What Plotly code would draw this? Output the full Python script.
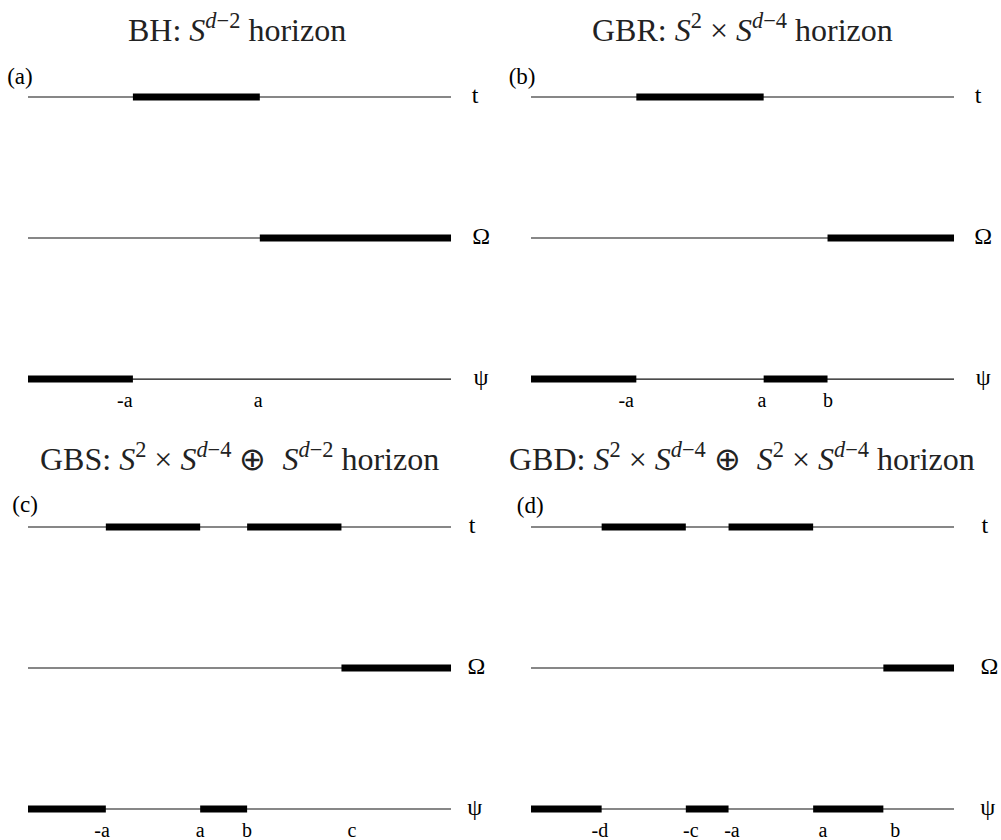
import plotly.graph_objects as go

# ---------------- data ----------------
row_names = ["t", "Ω", "ψ"]
row_levels = [2, 1, 0]
panel_tags = ["(a)", "(b)", "(c)", "(d)"]
panel_titles = [
    "BH: <i>S</i><sup><i>d</i>−2</sup> horizon",
    "GBR: <i>S</i><sup>2</sup> × <i>S</i><sup><i>d</i>−4</sup> horizon",
    "GBS: <i>S</i><sup>2</sup> × <i>S</i><sup><i>d</i>−4</sup> ⊕  <i>S</i><sup><i>d</i>−2</sup> horizon",
    "GBD: <i>S</i><sup>2</sup> × <i>S</i><sup><i>d</i>−4</sup> ⊕  <i>S</i><sup>2</sup> × <i>S</i><sup><i>d</i>−4</sup> horizon",
]
axis_span = [0, 100]

# thick (horizon) segments per panel and row: t, Ω, ψ
bh_t = [[24.8, 54.8]]
bh_omega = [[54.8, 100]]
bh_psi = [[0, 24.8]]

gbr_t = [[24.9, 55.0]]
gbr_omega = [[70.1, 100]]
gbr_psi = [[0, 24.9], [55.0, 70.1]]

gbs_t = [[18.4, 40.7], [51.8, 74.1]]
gbs_omega = [[74.1, 100]]
gbs_psi = [[0, 18.4], [40.7, 51.8]]

gbd_t = [[16.7, 36.6], [46.7, 66.7]]
gbd_omega = [[83.3, 100]]
gbd_psi = [[0, 16.7], [36.6, 46.7], [66.7, 83.3]]

# rod labels under the ψ line
bh_ticks = [22.9, 54.4]
bh_ticktext = ["-a", "a"]
gbr_ticks = [22.5, 54.6, 70.2]
gbr_ticktext = ["-a", "a", "b"]
gbs_ticks = [17.5, 40.7, 51.8, 76.6]
gbs_ticktext = ["-a", "a", "b", "c"]
gbd_ticks = [16.3, 37.8, 47.5, 69.0, 86.1]
gbd_ticktext = ["-d", "-c", "-a", "a", "b"]

# ---------------- assembly ----------------
panel_segments = [
    [bh_t, bh_omega, bh_psi],
    [gbr_t, gbr_omega, gbr_psi],
    [gbs_t, gbs_omega, gbs_psi],
    [gbd_t, gbd_omega, gbd_psi],
]
panel_ticks = [bh_ticks, gbr_ticks, gbs_ticks, gbd_ticks]
panel_ticktext = [bh_ticktext, gbr_ticktext, gbs_ticktext, gbd_ticktext]
row_label_x = [
    [105.7, 107.1, 107.1],
    [105.7, 106.9, 106.9],
    [105.0, 106.0, 105.6],
    [107.3, 108.4, 108.0],
]
tag_pos = [(-1.9, 2.135), (-2.1, 2.135), (-0.7, 2.15), (-0.2, 2.14)]
title_pos = [(0.2368, 0.9667), (0.7413, 0.9667), (0.2388, 0.4560), (0.7413, 0.4560)]

SERIF = "Liberation Serif"
fig = go.Figure()

for p in range(4):
    xa = "x" if p == 0 else f"x{p+1}"
    ya = "y" if p == 0 else f"y{p+1}"
    for r in range(3):
        lvl = row_levels[r]
        # thin base line
        fig.add_trace(go.Scatter(
            x=axis_span, y=[lvl, lvl], mode="lines",
            line=dict(color="#111111", width=1.2),
            xaxis=xa, yaxis=ya, showlegend=False, hoverinfo="skip"))
        # thick segments
        for seg in panel_segments[p][r]:
            fig.add_trace(go.Scatter(
                x=seg, y=[lvl, lvl], mode="lines",
                line=dict(color="black", width=7),
                xaxis=xa, yaxis=ya, showlegend=False, hoverinfo="skip"))
    # row names
    fig.add_trace(go.Scatter(
        x=row_label_x[p], y=row_levels, mode="text", text=row_names,
        textposition="middle center",
        textfont=dict(family=SERIF, size=24, color="black"),
        cliponaxis=False, xaxis=xa, yaxis=ya, showlegend=False, hoverinfo="skip"))
    # rod labels
    fig.add_trace(go.Scatter(
        x=panel_ticks[p], y=[-0.165] * len(panel_ticks[p]), mode="text",
        text=panel_ticktext[p], textposition="middle center",
        textfont=dict(family=SERIF, size=20, color="black"),
        cliponaxis=False, xaxis=xa, yaxis=ya, showlegend=False, hoverinfo="skip"))
    # panel tag
    fig.add_trace(go.Scatter(
        x=[tag_pos[p][0]], y=[tag_pos[p][1]], mode="text", text=[panel_tags[p]],
        textposition="middle center",
        textfont=dict(family=SERIF, size=23, color="black"),
        cliponaxis=False, xaxis=xa, yaxis=ya, showlegend=False, hoverinfo="skip"))

annotations = []
for p in range(4):
    annotations.append(dict(
        x=title_pos[p][0], y=title_pos[p][1], xref="paper", yref="paper",
        text=panel_titles[p], showarrow=False,
        xanchor="center", yanchor="middle",
        font=dict(family=SERIF, size=32, color="#222222")))

col_domains = [[0, 0.4995], [0.4995, 1.0]]
col_ranges = [[-6.62, 111.58], [-7.33, 111.11]]
row_domains = [[0.5152, 0.9181], [0.0033, 0.4062]]

layout = dict(
    width=1001, height=840,
    margin=dict(l=0, r=0, t=0, b=0),
    paper_bgcolor="white", plot_bgcolor="white",
    annotations=annotations,
)
for p in range(4):
    col = p % 2
    row = p // 2
    xk = "xaxis" if p == 0 else f"xaxis{p+1}"
    yk = "yaxis" if p == 0 else f"yaxis{p+1}"
    layout[xk] = dict(domain=col_domains[col], range=col_ranges[col], visible=False,
                      anchor="y" if p == 0 else f"y{p+1}")
    layout[yk] = dict(domain=row_domains[row], range=[-0.2, 2.2], visible=False,
                      anchor="x" if p == 0 else f"x{p+1}")

fig.update_layout(**layout)
fig.write_html("out.html", config={"displayModeBar": False},
               post_script="document.body.style.margin='0';document.body.style.overflow='hidden';")
